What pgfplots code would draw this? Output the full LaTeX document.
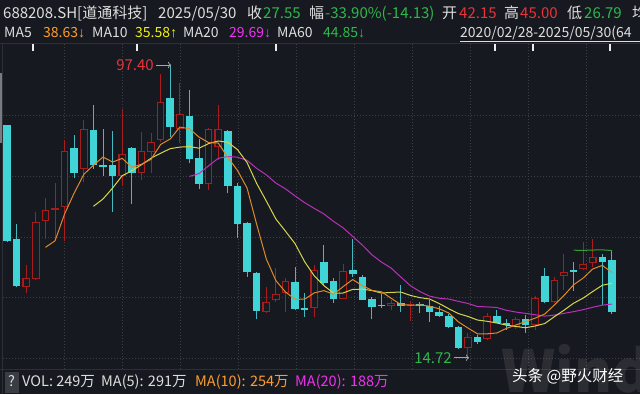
\documentclass[border=0pt]{standalone}
\usepackage{pgfplots}
\pgfplotsset{compat=1.18}
\usepackage{pgfplotstable}
\usetikzlibrary{arrows.meta}
\usepackage{fontspec}
\setmainfont{Noto Sans CJK SC}
\newfontfamily\arrowfont{Liberation Sans}
\newcommand{\da}{{\arrowfont ↓}}
\newcommand{\ua}{{\arrowfont ↑}}
\definecolor{bg}{RGB}{22,25,31}
\definecolor{gridc}{RGB}{60,63,70}
\definecolor{sepc}{RGB}{44,47,53}
\definecolor{redc}{RGB}{168,28,30}
\definecolor{cyanc}{RGB}{64,212,214}
\definecolor{cyanw}{RGB}{70,185,192}
\definecolor{ma5c}{RGB}{222,138,44}
\definecolor{ma10c}{RGB}{214,214,76}
\definecolor{ma20c}{RGB}{186,48,186}
\definecolor{ma60c}{RGB}{50,160,50}
\definecolor{txt}{RGB}{222,222,222}
\definecolor{tgreen}{RGB}{46,184,75}
\definecolor{tred}{RGB}{232,51,58}
\definecolor{tor}{RGB}{255,157,46}
\definecolor{tye}{RGB}{240,240,20}
\definecolor{tma}{RGB}{240,50,240}
\definecolor{qbox}{RGB}{58,61,67}
\definecolor{scrollc}{RGB}{120,123,128}

\pgfplotstableread{
x open high low close
2 34.62 40.76 32.75 37.16
3 36.71 55.86 36.51 52.85
4 53.22 59.65 48.04 56.25
5 56.25 64.07 47.84 56.82
6 57.27 76.16 47.64 73.05
8 67.95 81.82 64.35 79.19
12 65.97 84.94 63.42 72.11
14 66.90 78.51 64.83 73.13
15 72.68 78.06 66.73 75.51
16 76.16 94.77 75.68 87.01
18 79.28 92.22 75.23 83.52
21 63.62 79.47 62.00 79.28
22 74.26 86.07 70.50 79.28
27 27.54 34.62 27.08 30.37
28 30.85 39.83 30.37 32.46
29 32.92 36.99 27.54 36.23
32 28.50 40.76 26.12 39.35
35 31.13 41.05 31.00 39.06
40 29.06 30.85 28.02 29.91
42 29.29 30.55 25.04 29.72
48 17.17 21.42 14.72 20.46
50 19.72 27.08 19.52 26.40
53 23.12 26.12 22.55 25.38
55 23.77 31.98 22.35 31.33
57 30.20 37.45 30.00 36.51
58 37.73 43.79 33.68 38.86
60 39.54 47.36 39.40 40.96
61 41.24 48.12 40.28 43.11
}\up

\pgfplotstableread{
x open high low close
0 80.41 80.41 47.30 47.64
1 48.21 52.37 34.67 34.90
7 73.98 77.58 65.49 66.90
9 78.91 86.07 67.95 69.08
10 69.08 79.28 65.97 68.43
11 69.08 78.80 55.86 65.97
13 73.81 74.26 58.04 66.73
17 87.97 97.40 77.09 79.93
19 82.96 90.32 69.56 70.78
20 70.98 76.36 62.20 63.62
23 78.71 78.90 61.07 63.13
24 63.13 63.90 48.32 52.37
25 52.57 53.02 37.45 38.69
26 38.58 38.86 25.38 27.82
30 36.03 40.11 28.02 28.30
31 28.67 32.75 26.12 28.02
33 41.70 46.42 35.10 35.58
34 36.14 36.99 30.08 31.13
36 39.35 48.21 37.30 38.07
37 37.45 37.93 30.85 30.85
38 31.13 31.78 25.38 28.73
39 29.43 32.55 28.50 29.15
41 30.00 35.10 27.54 29.29
43 29.72 30.37 27.08 29.23
44 29.15 30.85 24.70 27.31
45 27.36 29.15 26.12 26.32
46 26.32 26.80 22.84 23.29
47 23.29 23.48 16.97 17.17
49 20.29 20.94 18.39 19.04
51 26.40 28.02 24.42 24.42
52 24.25 25.38 22.35 23.68
54 25.47 26.60 21.59 23.77
56 37.73 39.83 29.91 30.20
59 39.35 41.70 33.40 38.78
62 43.11 43.79 29.43 41.53
63 42.15 45.00 26.79 27.55
}\down

\pgfplotstableread{
x y
4 45.76
5 47.60
6 55.23
7 61.17
8 66.44
9 69.01
10 71.33
11 69.91
12 70.96
13 68.46
14 69.27
15 70.69
16 74.90
17 76.46
18 79.82
19 79.35
20 76.97
21 75.43
22 75.30
23 71.22
24 67.54
25 62.55
26 52.26
27 42.48
28 36.34
29 33.11
30 31.04
31 31.08
32 32.87
33 33.50
34 32.48
35 34.63
36 36.64
37 34.94
38 33.57
39 33.17
40 31.34
41 29.59
42 29.36
43 29.46
44 29.09
45 28.37
46 27.17
47 24.66
48 22.91
49 21.26
50 21.27
51 21.50
52 22.80
53 23.78
54 24.73
55 25.72
56 26.87
57 29.44
58 32.13
59 35.14
60 37.06
61 39.64
62 40.65
63 38.63
}\mafive

\pgfplotstableread{
x y
9 57.38
10 59.46
11 62.57
12 66.07
13 67.45
14 69.14
15 71.01
16 72.41
17 73.71
18 74.14
19 74.31
20 73.83
21 75.16
22 75.88
23 75.52
24 73.44
25 69.76
26 63.84
27 58.89
28 53.78
29 50.33
30 46.79
31 41.67
32 37.67
33 34.92
34 32.80
35 32.83
36 33.86
37 33.91
38 33.53
39 32.82
40 32.99
41 33.11
42 32.15
43 31.51
44 31.13
45 29.86
46 28.38
47 27.01
48 26.19
49 25.17
50 24.82
51 24.34
52 23.73
53 23.35
54 22.99
55 23.49
56 24.19
57 26.12
58 27.96
59 29.93
60 31.39
61 33.26
62 35.04
63 35.58
}\maten

\pgfplotstableread{
x y
19 65.85
20 66.65
21 68.87
22 70.97
23 71.49
24 71.29
25 70.39
26 68.12
27 66.30
28 63.96
29 62.32
30 60.31
31 58.41
32 56.78
33 55.22
34 53.12
35 51.30
36 48.85
37 46.40
38 43.66
39 41.57
40 39.89
41 37.39
42 34.91
43 33.22
44 31.96
45 31.35
46 31.12
47 30.46
48 29.86
49 29.00
50 28.90
51 28.72
52 27.94
53 27.43
54 27.06
55 26.68
56 26.28
57 26.57
58 27.07
59 27.55
60 28.11
61 28.80
62 29.39
63 29.69
}\matwenty

\pgfplotstableread{
x y
59 44.95
60 44.90
61 45.00
62 45.05
63 44.85
}\masixty

\begin{document}
\begin{tikzpicture}[x=1pt,y=1pt]
\fill[bg] (0,0) rectangle (640,394);
\useasboundingbox (0,0) rectangle (640,394);
% separators and grid
\draw[sepc, line width=1pt] (0,350) -- (640,350);
\draw[sepc, line width=1pt] (0,25) -- (640,25);
\draw[sepc, line width=1pt] (2.7,0) -- (2.7,350);
\fill[scrollc] (0,251) rectangle (2.2,321);
\foreach \gx in {64,122,180,238,296,354,412,470,528,586}
  \draw[gridc, dash pattern=on 1pt off 2pt, line width=0.8pt] (\gx,350) -- (\gx,25);
\foreach \gy in {115.5,176.5,237,297.5,358}
  \draw[gridc, dash pattern=on 1pt off 2pt, line width=0.8pt] (3,{394-\gy}) -- (640,{394-\gy});
% event markers
\foreach \mx in {33,137,276,495,533,610}
  \fill[white!85!gray] ({\mx-1.2},343) rectangle ({\mx+1.2},350);

% watermark (behind the data)
\node[anchor=base west, text=white, opacity=0.09, font=\fontsize{58}{58}\selectfont\bfseries, inner sep=0] at (501,2) {Wind};

\begin{axis}[at={(0,0)}, anchor=south west, scale only axis,
  width=640pt, height=394pt,
  xmin=-0.729, xmax=65.917, ymin=4.227, ymax=115.808,
  hide axis, clip=true]
% wicks
\addplot[draw=redc, line width=1pt, -, quiver={u=0, v=\thisrow{high}-\thisrow{low}}] table[x=x, y=low] {\up};
\addplot[draw=cyanw, line width=1pt, -, quiver={u=0, v=\thisrow{high}-\thisrow{low}}] table[x=x, y=low] {\down};
% bodies
\addplot[draw=cyanc, line width=7.6pt, -, quiver={u=0, v=\thisrow{close}-\thisrow{open}}] table[x=x, y=open] {\down};
\addplot[draw=redc, line width=7.6pt, -, quiver={u=0, v=\thisrow{close}-\thisrow{open}}] table[x=x, y=open] {\up};
\addplot[draw=bg, line width=5.4pt, -, quiver={u=0, v={max(\thisrow{close}-\thisrow{open}-0.62,0)}}] table[x=x, y expr=\thisrow{open}+0.31] {\up};
% moving averages
\addplot[ma20c, line width=1pt] table[x=x,y=y] {\matwenty};
\addplot[ma10c, line width=1pt] table[x=x,y=y] {\maten};
\addplot[ma5c, line width=1pt] table[x=x,y=y] {\mafive};
\addplot[ma60c, line width=1pt] table[x=x,y=y] {\masixty};
\end{axis}

% extreme labels
\node[anchor=base east, text=tred, font=\fontsize{15}{15}\selectfont, inner sep=0] at (154,323.3) {97.40};
\draw[-{To[length=3pt]}, gray!70, line width=0.8pt] (156,329) -- (171,329);
\node[anchor=base east, text=tgreen, font=\fontsize{15}{15}\selectfont, inner sep=0] at (452,31) {14.72};
\draw[-{To[length=3pt]}, gray!70, line width=0.8pt] (454,36.3) -- (469,36.3);

\node[anchor=base west, text=white, font=\fontsize{15.5}{15.5}\selectfont, inner sep=0] at (512,13) {头条 @野火财经};

% header row 1
\begin{scope}[every node/.style={anchor=base west, inner sep=0, font=\fontsize{15}{15}\selectfont, text=txt}]
\node at (3,375.7) {688208.SH[道通科技]};
\node at (158,375.7) {2025/05/30};
\node at (247,375.7) {收};
\node[text=tgreen] at (263,375.7) {27.55};
\node at (309,375.7) {幅};
\node[text=tgreen] at (325,375.7) {-33.90\%(-14.13)};
\node at (442,375.7) {开};
\node[text=tred] at (459,375.7) {42.15};
\node at (504,375.7) {高};
\node[text=tred] at (520,375.7) {45.00};
\node at (567,375.7) {低};
\node[text=tgreen] at (584,375.7) {26.79};
\node at (632,375.7) {均};
\end{scope}
% header row 2
\begin{scope}[every node/.style={anchor=base west, inner sep=0, font=\fontsize{14}{14}\selectfont, text=txt}]
\node at (4,356.3) {MA5};
\node[text=tor] at (43,356.3) {38.63\da};
\node at (92,356.3) {MA10};
\node[text=tye] at (135,356.3) {35.58\ua};
\node at (183,356.3) {MA20};
\node[text=tma] at (229,356.3) {29.69\da};
\node at (277,356.3) {MA60};
\node[text=tgreen] at (323,356.3) {44.85\da};
\node at (460,356.3) {2020/02/28-2025/05/30(64};
\end{scope}
\draw[txt, line width=0.7pt] (460,353) -- (640,353);
% bottom row
\fill[qbox] (5,1) rectangle (19,22);
\begin{scope}[every node/.style={anchor=base west, inner sep=0, font=\fontsize{14.5}{14.5}\selectfont, text=txt}]
\node at (8,7.3) {?};
\node at (22,7.3) {VOL: 249万};
\node at (101,7.3) {MA(5): 291万};
\node[text=tor] at (195,7.3) {MA(10): 254万};
\node[text=tma] at (295,7.3) {MA(20): 188万};
\end{scope}
\end{tikzpicture}
\end{document}
